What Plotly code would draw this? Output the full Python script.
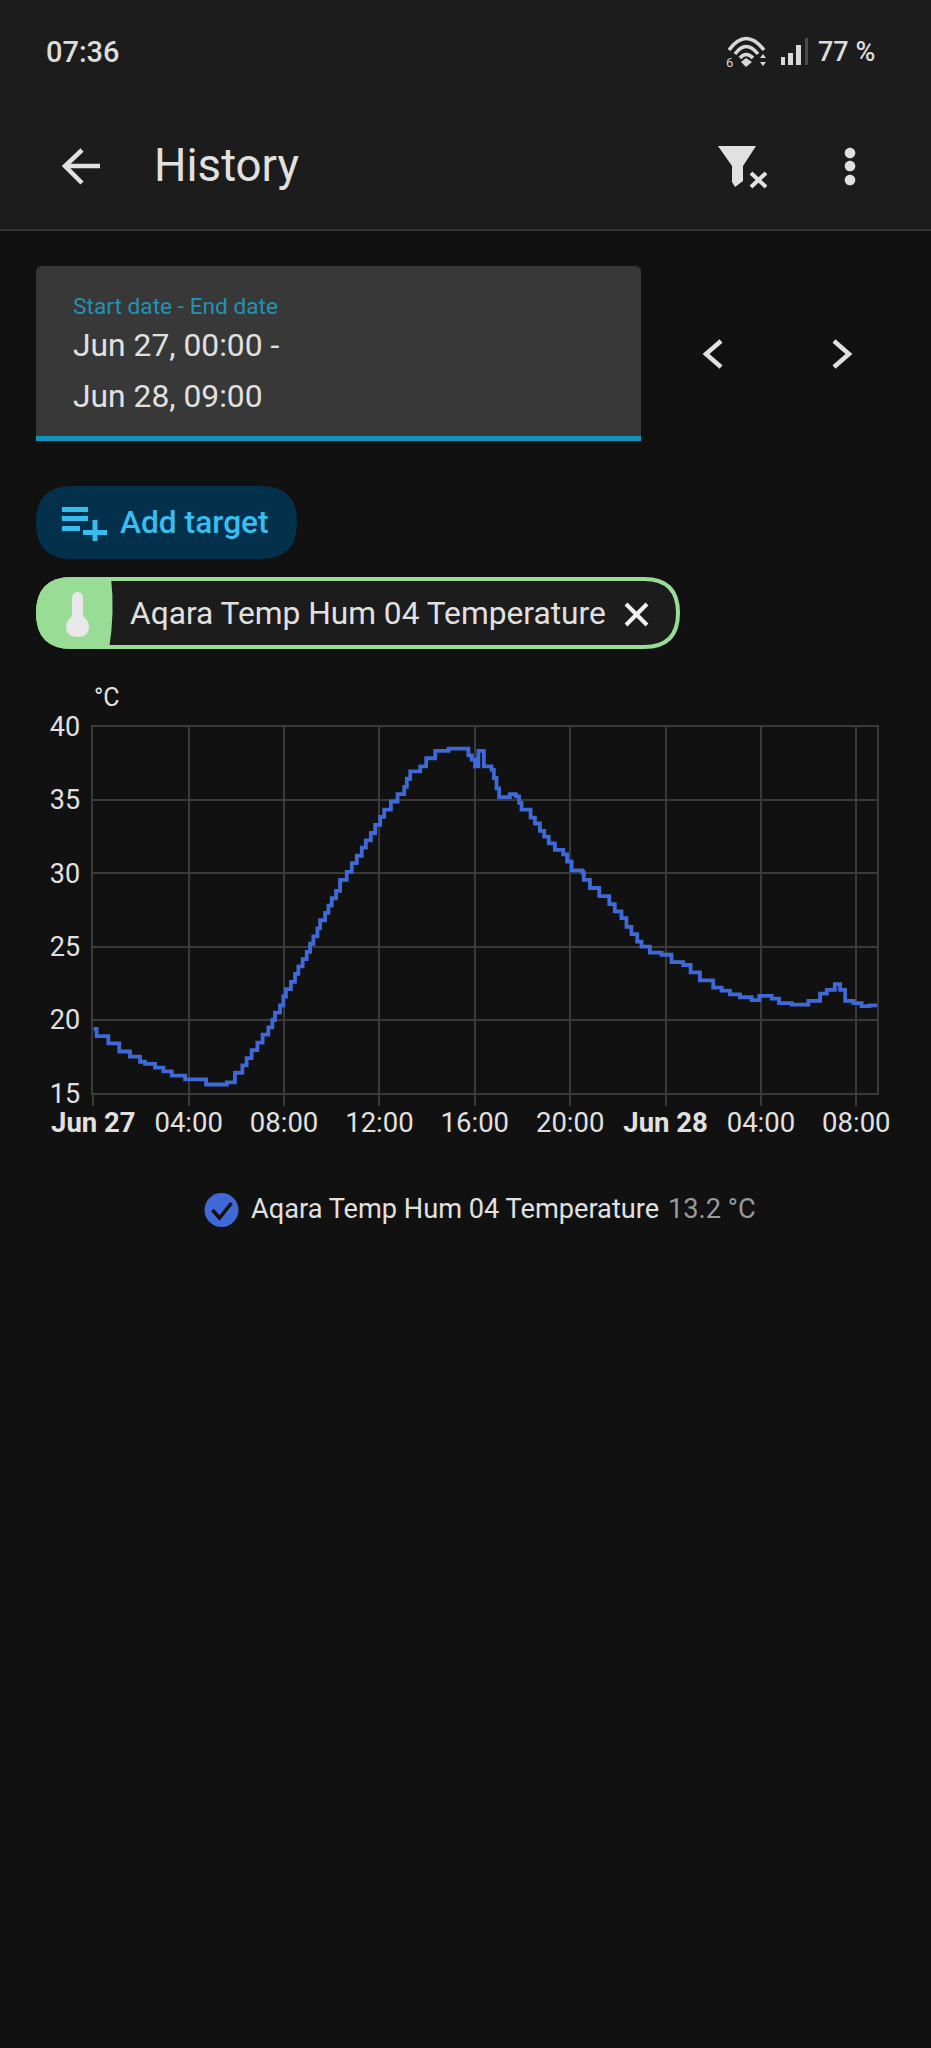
import re
import pandas as pd
import plotly.graph_objects as go

# Temperature history (hours since Jun 27 00:00)
hours = [
    0, 0.14, 0.63, 1.09, 1.54, 1.96, 2.17, 2.59, 2.94, 3.29, 3.85, 4.73, 5.6, 5.94, 6.25, 6.43,
    6.64, 6.88, 7.1, 7.34, 7.51, 7.62, 7.83, 7.97, 8.08, 8.29, 8.46, 8.6, 8.78, 8.95, 9.09, 9.23,
    9.4, 9.51, 9.72, 9.86, 10.0, 10.18, 10.35, 10.63, 10.84, 11.05, 11.26, 11.43, 11.64, 11.82,
    12.03, 12.2, 12.48, 12.76, 13.04, 13.15, 13.29, 13.71, 13.96, 14.34, 14.9, 15.73, 15.87,
    16.01, 16.15, 16.38, 16.7, 16.8, 16.91, 17.02, 17.47, 17.72, 17.86, 17.96, 18.34, 18.52,
    18.73, 18.91, 19.1, 19.36, 19.71, 19.87, 20.06, 20.52, 20.57, 20.83, 21.22, 21.64, 21.87,
    22.15, 22.36, 22.57, 22.81, 22.99, 23.34, 23.83, 24.25, 24.74, 25.05, 25.44, 26.0, 26.35,
    26.7, 27.12, 27.61, 27.93, 28.45, 28.76, 29.29, 29.99, 30.48, 30.76, 31.1, 31.32, 31.53,
    31.88, 32.22, 32.55, 32.88,
]
temps = [
    19.4, 18.9, 18.4, 17.85, 17.5, 17.15, 17.0, 16.75, 16.5, 16.2, 15.95, 15.6, 15.75, 16.4, 16.9,
    17.4, 17.95, 18.45, 19.0, 19.5, 20.0, 20.5, 21.0, 21.6, 22.1, 22.6, 23.15, 23.65, 24.15, 24.65,
    25.2, 25.7, 26.25, 26.8, 27.3, 27.8, 28.3, 28.8, 29.55, 30.1, 30.7, 31.2, 31.75, 32.25, 32.75,
    33.3, 33.85, 34.35, 34.9, 35.4, 35.9, 36.45, 36.95, 37.3, 37.85, 38.35, 38.5, 38.05, 37.75,
    37.3, 38.35, 37.3, 37.05, 36.5, 35.8, 35.2, 35.4, 35.25, 34.8, 34.35, 33.8, 33.4, 32.9, 32.5,
    32.05, 31.6, 31.3, 30.8, 30.2, 30.05, 29.55, 29.0, 28.45, 27.9, 27.4, 26.95, 26.35, 25.85,
    25.35, 25.0, 24.6, 24.45, 23.95, 23.75, 23.25, 22.7, 22.2, 22.0, 21.75, 21.55, 21.35, 21.65,
    21.45, 21.15, 21.05, 21.3, 21.8, 22.05, 22.45, 22.05, 21.3, 21.15, 20.95, 21.0, 21.05,
]
tick_hours = [0, 4, 8, 12, 16, 20, 24, 28, 32]
tick_labels = ["<b>Jun 27</b>", "04:00", "08:00", "12:00", "16:00", "20:00", "<b>Jun 28</b>", "04:00", "08:00"]
y_ticks = [15, 20, 25, 30, 35, 40]

WIDTH, HEIGHT = 931, 2048
BG = "#111111"
BAR = "#1c1c1c"
TEXT = "#e1e1e1"
GRID = "#3a3a3a"
BLUE = "#3f69d6"
CYAN = "#38bdf0"
GREEN = "#98dc96"
FONT = "Roboto"

start = pd.Timestamp("2024-06-27 00:00")
times = start + pd.to_timedelta(hours, unit="h")
tick_times = start + pd.to_timedelta(tick_hours, unit="h")


def path(d):
    # screen pixels -> paper coordinates, absolute M/L/Q/C/Z only
    nums = iter(re.findall(r"[MLQCZ]|-?[\d.]+", d))
    out = []
    for tok in nums:
        if tok in "MLQCZ":
            out.append(tok)
        else:
            out.append(f"{float(tok) / WIDTH:.5f},{1 - float(next(nums)) / HEIGHT:.5f}")
    return " ".join(out)


def round_rect(x0, y0, x1, y1, r):
    return (f"M {x0 + r} {y0} L {x1 - r} {y0} Q {x1} {y0} {x1} {y0 + r} L {x1} {y1 - r} "
            f"Q {x1} {y1} {x1 - r} {y1} L {x0 + r} {y1} Q {x0} {y1} {x0} {y1 - r} "
            f"L {x0} {y0 + r} Q {x0} {y0} {x0 + r} {y0} Z")


def circle(cx, cy, r):
    k = r * 0.5523
    return (f"M {cx - r} {cy} C {cx - r} {cy - k} {cx - k} {cy - r} {cx} {cy - r} "
            f"C {cx + k} {cy - r} {cx + r} {cy - k} {cx + r} {cy} "
            f"C {cx + r} {cy + k} {cx + k} {cy + r} {cx} {cy + r} "
            f"C {cx - k} {cy + r} {cx - r} {cy + k} {cx - r} {cy} Z")


def solid(d, color):
    return dict(type="path", xref="paper", yref="paper", path=path(d), fillcolor=color, line=dict(width=0), layer="below")


def stroke(d, color, width):
    return dict(type="path", xref="paper", yref="paper", path=path(d), line=dict(color=color, width=width), layer="below")


def label(x, y, text, size, color=TEXT, weight=400):
    return dict(x=x / WIDTH, y=1 - y / HEIGHT, xref="paper", yref="paper", text=text, showarrow=False,
                xanchor="left", yanchor="middle", borderpad=0,
                font=dict(family=FONT, size=size, color=color, weight=weight))


shapes = [
    # app bar
    solid("M 0 0 L 931 0 L 931 229 L 0 229 Z", BAR),
    solid("M 0 229 L 931 229 L 931 231 L 0 231 Z", "#333333"),
    # wifi icon
    stroke("M 729 50 Q 746 27 764 50", "#d8d8d8", 3.5),
    stroke("M 735 54 Q 746 39 758 54", "#d8d8d8", 3.5),
    stroke("M 740 58 Q 746 51 753 58", "#d8d8d8", 3.5),
    solid("M 746 58 L 752 62 L 746 67 L 741 62 Z", "#d8d8d8"),
    solid("M 760 58 L 766 58 L 763 54 Z", "#d8d8d8"),
    solid("M 760 62 L 766 62 L 763 66 Z", "#d8d8d8"),
    # signal bars
    solid("M 781 57 L 785 57 L 785 65 L 781 65 Z", "#d8d8d8"),
    solid("M 788 53 L 793 53 L 793 65 L 788 65 Z", "#d8d8d8"),
    solid("M 796 45 L 801 45 L 801 65 L 796 65 Z", "#d8d8d8"),
    solid("M 805 38 L 808 38 L 808 65 L 805 65 Z", "#4a4a4a"),
    # back arrow
    stroke("M 66 166 L 100 166", TEXT, 4.5),
    stroke("M 82 150 L 65 166 L 82 183", TEXT, 4.5),
    # filter clear icon
    solid("M 718 146 L 756 146 L 743 166 L 743 181 L 735 187 L 732 182 L 732 166 Z", TEXT),
    stroke("M 751 173 L 766 187", TEXT, 4),
    stroke("M 766 173 L 751 187", TEXT, 4),
    # overflow dots
    solid(circle(850, 153, 5.3), TEXT),
    solid(circle(850, 166, 5.3), TEXT),
    solid(circle(850, 180, 5.3), TEXT),
    # date range field
    solid("M 36 436 L 36 272 Q 36 266 42 266 L 635 266 Q 641 266 641 272 L 641 436 Z", "#383838"),
    solid("M 36 436 L 641 436 L 641 441 L 36 441 Z", "#0e93bd"),
    stroke("M 721 341 L 706 354 L 721 367", TEXT, 4.5),
    stroke("M 834 341 L 849 354 L 834 367", TEXT, 4.5),
    # add target button
    solid(round_rect(36, 486, 297, 559, 36), "#03304a"),
    solid("M 62 507 L 88 507 L 88 512 L 62 512 Z", CYAN),
    solid("M 62 516 L 88 516 L 88 521 L 62 521 Z", CYAN),
    solid("M 62 526 L 80 526 L 80 531 L 62 531 Z", CYAN),
    solid("M 83 530 L 107 530 L 107 535 L 83 535 Z", CYAN),
    solid("M 92.5 520 L 97.5 520 L 97.5 541 L 92.5 541 Z", CYAN),
    # selected target chip
    dict(type="path", xref="paper", yref="paper", path=path(round_rect(38, 579, 678, 647, 34)),
         fillcolor=BAR, line=dict(color=GREEN, width=4), layer="below"),
    solid("M 72 577 L 111 577 Q 115 613 109 649 L 72 649 Q 36 649 36 613 Q 36 577 72 577 Z", GREEN),
    solid("M 72 598 Q 72 592 77.5 592 Q 83 592 83 598 L 83 616 Q 89 621 89 626 Q 89 637 77.5 637 "
          "Q 66 637 66 626 Q 66 621 72 616 Z", "#e8e8e8"),
    stroke("M 626 604 L 647 625", "#f2f2f2", 4),
    stroke("M 647 604 L 626 625", "#f2f2f2", 4),
    # legend checkbox
    solid(circle(221.5, 1210, 17), BLUE),
    stroke("M 212.5 1210 L 219.5 1218 L 231.5 1203", BG, 3.5),
]

annotations = [
    label(45, 52, "07:36", 29, "#dcdcdc", 500),
    label(817, 52, "77 %", 27, "#dcdcdc", 500),
    label(725, 62, "6", 13, "#d8d8d8"),
    label(153, 165, "History", 45.6),
    label(71.5, 306, "Start date - End date", 22.7, "#2193b5"),
    label(71.5, 345, "Jun 27, 00:00 -", 31.8),
    label(71.5, 396, "Jun 28, 09:00", 31.8),
    label(119, 522, "Add target", 31.7, CYAN, 500),
    label(128.5, 613, "Aqara Temp Hum 04 Temperature", 31.7),
    label(93, 697, "°C", 25),
    label(250, 1209, "Aqara Temp Hum 04 Temperature", 27.2),
    label(667, 1209, "13.2 °C", 27.2, "#9a9a9a"),
]

fig = go.Figure()

fig.add_trace(go.Scatter(
    x=times,
    y=temps,
    mode="lines",
    line=dict(color=BLUE, width=3.8, shape="hv"),
    showlegend=False,
    hovertemplate="%{x|%b %d, %H:%M}<br>%{y} °C<extra></extra>",
))

fig.update_layout(
    width=WIDTH,
    height=HEIGHT,
    margin=dict(l=0, r=0, t=0, b=0, autoexpand=False),
    paper_bgcolor=BG,
    plot_bgcolor=BG,
    font=dict(family=FONT, color=TEXT),
    shapes=shapes,
    annotations=annotations,
    xaxis=dict(
        domain=[93.3 / WIDTH, 877.3 / WIDTH],
        range=[start, times[-1]],
        tickmode="array",
        tickvals=tick_times,
        ticktext=tick_labels,
        tickangle=0,
        tickfont=dict(family=FONT, size=27.5, color=TEXT),
        ticks="outside",
        ticklen=11,
        tickwidth=1.5,
        tickcolor=GRID,
        ticklabelstandoff=-7,
        showgrid=True,
        gridcolor=GRID,
        gridwidth=1.5,
        showline=True,
        linecolor=GRID,
        linewidth=1.5,
        mirror=True,
        zeroline=False,
    ),
    yaxis=dict(
        domain=[1 - 1093.3 / HEIGHT, 1 - 726.7 / HEIGHT],
        range=[15, 40],
        tickmode="array",
        tickvals=y_ticks,
        tickfont=dict(family=FONT, size=27, color=TEXT),
        ticks="",
        ticklabelstandoff=6,
        showgrid=True,
        gridcolor=GRID,
        gridwidth=1.5,
        showline=True,
        linecolor=GRID,
        linewidth=1.5,
        mirror=True,
        zeroline=False,
    ),
)

fig.write_html(
    "out.html",
    config=dict(displayModeBar=False),
    post_script="document.body.style.margin='0';document.body.style.background='#111111';",
)
